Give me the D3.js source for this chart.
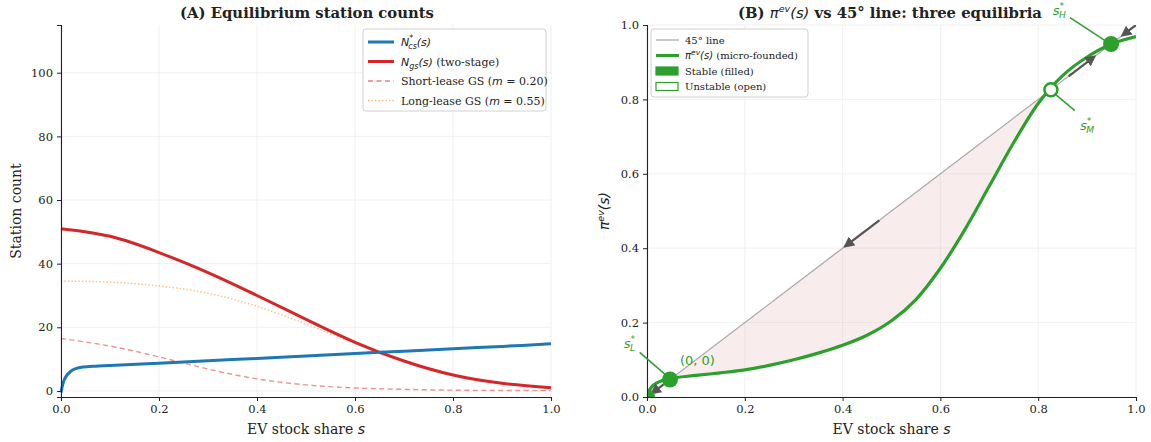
<!DOCTYPE html>
<html>
<head>
<meta charset="utf-8">
<script src="https://cdn.jsdelivr.net/npm/d3@7"></script>
<style>
  body { margin: 0; background: #fff; }
  svg text { font-family: "DejaVu Serif", serif; }
  .math { font-family: "DejaVu Sans", sans-serif; font-style: italic; }
  .grid line { stroke: #ececec; stroke-width: 0.8; }
</style>
</head>
<body>
<div id="chart"></div>
<script>
// panel A data
const shareCs = [0, 0.005, 0.01, 0.02, 0.03, 0.045, 0.07, 0.1, 0.2, 0.3, 0.4, 0.5, 0.6, 0.7, 0.8, 0.9, 1.0]
const nCs = [-0.5, 2.8, 4.5, 6.2, 7.0, 7.5, 7.8, 8.0, 8.7, 9.5, 10.2, 11.0, 11.8, 12.5, 13.3, 14.0, 14.8]
const shareA = [0, 0.1, 0.2, 0.3, 0.4, 0.5, 0.6, 0.7, 0.8, 0.9, 1.0]
const nGs = [51.0, 48.6, 43.5, 37.2, 30.0, 22.5, 15.3, 9.4, 5.0, 2.4, 1.0]
const shortLease = [16.5, 14.1, 10.7, 6.9, 3.8, 1.9, 0.95, 0.5, 0.25, 0.15, 0.1]
const longLease = [34.5, 34.2, 33.0, 30.7, 26.6, 21.0, 15.0, 9.4, 5.0, 2.4, 1.0]

// panel B data
const shareB = [0, 0.005, 0.01, 0.02, 0.03, 0.047, 0.1, 0.15, 0.2, 0.25, 0.3, 0.35, 0.4, 0.45, 0.5, 0.55, 0.6, 0.65, 0.7, 0.75, 0.8, 0.85, 0.9, 0.95, 1.0]
const piEv = [0, 0.018, 0.028, 0.038, 0.044, 0.05, 0.058, 0.065, 0.073, 0.085, 0.1, 0.118, 0.139, 0.166, 0.205, 0.262, 0.346, 0.45, 0.567, 0.684, 0.789, 0.864, 0.914, 0.949, 0.969]
const stablePts = [[0, 0], [0.047, 0.047], [0.949, 0.949]]
const unstablePts = [[0.826, 0.826]]
const flowArrows = [[0.475, 0.405], [0.034, 0.01], [0.862, 0.915], [1.0, 0.972]]

const ticksA = [0, 0.2, 0.4, 0.6, 0.8, 1.0]
const yTicksA = [0, 20, 40, 60, 80, 100]
const yTicksB = [0, 0.2, 0.4, 0.6, 0.8, 1.0]

const W = 1151, H = 442
const svg = d3.select("#chart").append("svg").attr("width", W).attr("height", H)

const green = "#2ca02c"
const ink = "#222"
const smooth = d3.curveCatmullRom.alpha(0.5)

function grid(g, x, y, xt, yt, h) {
  g.append("g").attr("class", "grid").selectAll("line").data(xt).enter().append("line")
    .attr("x1", d => x(d)).attr("x2", d => x(d)).attr("y1", 0).attr("y2", h)
  g.append("g").attr("class", "grid").selectAll("line").data(yt).enter().append("line")
    .attr("x1", x.range()[0]).attr("x2", x.range()[1]).attr("y1", d => y(d)).attr("y2", d => y(d))
}

function drawSpines(g, x, y, xt, yt, yfmt, h) {
  const xa = g.append("g").attr("transform", "translate(0," + h + ")")
    .call(d3.axisBottom(x).tickValues(xt).tickFormat(d3.format(".1f")).tickSize(4).tickPadding(4))
  const ya = g.append("g")
    .call(d3.axisLeft(y).tickValues(yt).tickFormat(yfmt).tickSize(4).tickPadding(4))
  ;[xa, ya].forEach(a => {
    a.select(".domain").attr("stroke", ink).attr("stroke-width", 1.1)
    a.selectAll(".tick line").attr("stroke", ink)
    a.selectAll("text").style("font-family", "DejaVu Serif").style("font-size", "11.5px").style("fill", ink)
  })
}

function label(sel, size) {
  return sel.style("font-size", size).style("fill", ink)
}

// ---------- Panel A ----------
const a = { left: 61, top: 25, w: 490, h: 372 }
const gA = svg.append("g").attr("transform", "translate(" + a.left + "," + a.top + ")")
const xA = d3.scaleLinear().domain([0, 1]).range([0, a.w])
const yA = d3.scaleLinear().domain([-1.9, 115]).range([a.h, 0])

grid(gA, xA, yA, ticksA, yTicksA, a.h)

const lineA = (xs, vals, curve) => d3.line().x((d, i) => xA(xs[i])).y(d => yA(d)).curve(curve)(vals)

gA.append("path").attr("d", lineA(shareA, shortLease, d3.curveNatural)).attr("fill", "none")
  .attr("stroke", "#e88080").attr("stroke-width", 1.4).attr("stroke-dasharray", "5,3.5").attr("opacity", 0.85)
gA.append("path").attr("d", lineA(shareA, longLease, d3.curveNatural)).attr("fill", "none")
  .attr("stroke", "#fdae6b").attr("stroke-width", 1.4).attr("stroke-dasharray", "1.3,2.2").attr("opacity", 0.9)
gA.append("path").attr("d", lineA(shareA, nGs, d3.curveNatural)).attr("fill", "none")
  .attr("stroke", "#d62728").attr("stroke-width", 3)
gA.append("path").attr("d", lineA(shareCs, nCs, smooth)).attr("fill", "none")
  .attr("stroke", "#1f77b4").attr("stroke-width", 3)

drawSpines(gA, xA, yA, ticksA, yTicksA, d3.format("d"), a.h)

label(svg.append("text").attr("x", a.left + a.w / 2 + 1).attr("y", 18).attr("text-anchor", "middle"), "14.8px")
  .style("font-weight", "bold").text("(A)  Equilibrium station counts")
label(svg.append("text").attr("x", a.left + a.w / 2).attr("y", 434).attr("text-anchor", "middle"), "14px")
  .html('EV stock share <tspan class="math">s</tspan>')
label(svg.append("text").attr("transform", "translate(21," + (a.top + a.h / 2) + ") rotate(-90)")
  .attr("text-anchor", "middle"), "14px").text("Station count")

// legend A
const legA = svg.append("g").attr("transform", "translate(363,29)")
legA.append("rect").attr("width", 183).attr("height", 82).attr("rx", 3)
  .attr("fill", "#fff").attr("fill-opacity", 0.85).attr("stroke", "#d0d0d0")
const legAItems = [
  { color: "#1f77b4", w: 3, dash: null, html: '<tspan class="math">N</tspan><tspan class="math" dy="-5" font-size="8px">*</tspan><tspan class="math" dy="8" dx="-5" font-size="8px">cs</tspan><tspan class="math" dy="-3">(s)</tspan>' },
  { color: "#d62728", w: 3, dash: null, html: '<tspan class="math">N</tspan><tspan class="math" dy="3" font-size="8px">gs</tspan><tspan class="math" dy="-3">(s)</tspan> (two-stage)' },
  { color: "#e88080", w: 1.4, dash: "5,3.5", html: 'Short-lease GS (<tspan class="math">m</tspan> = 0.20)' },
  { color: "#fdae6b", w: 1.4, dash: "1.3,2.2", html: 'Long-lease GS (<tspan class="math">m</tspan> = 0.55)' }
]
legAItems.forEach((d, i) => {
  const yy = 13 + i * 19.5
  legA.append("line").attr("x1", 5).attr("x2", 31).attr("y1", yy).attr("y2", yy)
    .attr("stroke", d.color).attr("stroke-width", d.w).attr("stroke-dasharray", d.dash)
  label(legA.append("text").attr("x", 38).attr("y", yy + 4), "11px").html(d.html)
})

// ---------- Panel B ----------
const b = { left: 647, top: 25, w: 489, h: 372 }
const gB = svg.append("g").attr("transform", "translate(" + b.left + "," + b.top + ")")
const xB = d3.scaleLinear().domain([0, 1]).range([0, b.w])
const yB = d3.scaleLinear().domain([0, 1]).range([b.h, 0])

grid(gB, xB, yB, ticksA, yTicksB, b.h)

svg.append("clipPath").attr("id", "clipB").append("rect")
  .attr("x", 0).attr("y", 0).attr("width", b.w).attr("height", b.h)
const inner = gB.append("g").attr("clip-path", "url(#clipB)")

// shading between 45 line and pi curve over the middle region (clipped to where the curve is below)
const idx = shareB.map((s, i) => i).filter(i => shareB[i] >= 0.047 && shareB[i] <= 0.85)
svg.append("clipPath").attr("id", "clipMid").append("rect")
  .attr("x", xB(0.047)).attr("y", 0).attr("width", xB(0.826) - xB(0.047)).attr("height", b.h)
inner.append("path").attr("clip-path", "url(#clipMid)")
  .attr("d", d3.area().x(i => xB(shareB[i])).y0(i => yB(shareB[i])).y1(i => yB(piEv[i])).curve(smooth)(idx))
  .attr("fill", "#e8b4b4").attr("fill-opacity", 0.25)

inner.append("line").attr("x1", xB(0)).attr("y1", yB(0)).attr("x2", xB(1)).attr("y2", yB(1))
  .attr("stroke", "#aaaaaa").attr("stroke-width", 1.3)

inner.append("path")
  .attr("d", d3.line().x((d, i) => xB(shareB[i])).y(d => yB(d)).curve(smooth)(piEv))
  .attr("fill", "none").attr("stroke", green).attr("stroke-width", 3.2)

// flow arrows along the diagonal
svg.append("defs").append("marker").attr("id", "ah").attr("viewBox", "0 0 10 10")
  .attr("refX", 8).attr("refY", 5).attr("markerWidth", 5).attr("markerHeight", 5).attr("orient", "auto")
  .append("path").attr("d", "M0,0 L10,5 L0,10 z").attr("fill", "#555")
inner.selectAll(".flow").data(flowArrows).enter().append("line")
  .attr("x1", d => xB(d[0])).attr("y1", d => yB(d[0]))
  .attr("x2", d => xB(d[1])).attr("y2", d => yB(d[1]))
  .attr("stroke", "#555").attr("stroke-width", 2.2).attr("marker-end", "url(#ah)")

inner.selectAll(".stable").data(stablePts).enter().append("circle")
  .attr("cx", d => xB(d[0])).attr("cy", d => yB(d[1])).attr("r", 8).attr("fill", green)
inner.selectAll(".unstable").data(unstablePts).enter().append("circle")
  .attr("cx", d => xB(d[0])).attr("cy", d => yB(d[1])).attr("r", 6.5)
  .attr("fill", "#fff").attr("stroke", green).attr("stroke-width", 2.5)

drawSpines(gB, xB, yB, ticksA, yTicksB, d3.format(".1f"), b.h)

// equilibrium annotations
const notes = [
  { lab: "L", tx: -0.036, ty: 0.145, x1: -0.015, y1: 0.12, x2: 0.043, y2: 0.054 },
  { lab: "M", tx: 0.9, ty: 0.73, x1: 0.875, y1: 0.77, x2: 0.834, y2: 0.815 },
  { lab: "H", tx: 0.843, ty: 1.04, x1: 0.865, y1: 1.02, x2: 0.94, y2: 0.955 }
]
notes.forEach(n => {
  gB.append("line").attr("x1", xB(n.x1)).attr("y1", yB(n.y1)).attr("x2", xB(n.x2)).attr("y2", yB(n.y2))
    .attr("stroke", green).attr("stroke-width", 1.5)
  gB.append("text").attr("x", xB(n.tx)).attr("y", yB(n.ty) + 5).attr("text-anchor", "middle")
    .style("font-size", "13px").style("fill", green)
    .html('<tspan class="math">s</tspan><tspan class="math" font-size="9px" dy="-6">*</tspan><tspan class="math" font-size="9px" dy="9" dx="-5">' + n.lab + '</tspan>')
})
gB.append("text").attr("x", xB(0.103)).attr("y", yB(0.1) + 5).attr("text-anchor", "middle")
  .style("font-family", "DejaVu Sans").style("font-size", "13px").style("fill", green).text("(0, 0)")

label(svg.append("text").attr("x", 890).attr("y", 18).attr("text-anchor", "middle"), "14.8px")
  .style("font-weight", "bold")
  .html('(B)  <tspan class="math" font-weight="normal">π</tspan><tspan class="math" font-weight="normal" font-size="9.5px" dy="-6">ev</tspan><tspan class="math" font-weight="normal" dy="6">(s)</tspan> vs 45° line: three equilibria')
label(svg.append("text").attr("x", b.left + b.w / 2).attr("y", 434).attr("text-anchor", "middle"), "14px")
  .html('EV stock share <tspan class="math">s</tspan>')
label(svg.append("text").attr("transform", "translate(609," + (b.top + b.h / 2) + ") rotate(-90)")
  .attr("text-anchor", "middle"), "14px")
  .html('<tspan class="math">π</tspan><tspan class="math" font-size="9.5px" dy="-5">ev</tspan><tspan class="math" dy="5">(s)</tspan>')

// legend B
const legB = svg.append("g").attr("transform", "translate(651,29)")
legB.append("rect").attr("width", 157).attr("height", 68).attr("rx", 3)
  .attr("fill", "#fff").attr("fill-opacity", 0.85).attr("stroke", "#d0d0d0")
const legBItems = [
  { kind: "line", color: "#aaaaaa", w: 1.3, html: '45° line' },
  { kind: "line", color: green, w: 3, html: '<tspan class="math">π</tspan><tspan class="math" font-size="7.5px" dy="-4">ev</tspan><tspan class="math" dy="4">(s)</tspan>  (micro-founded)' },
  { kind: "fill", html: 'Stable (filled)' },
  { kind: "open", html: 'Unstable (open)' }
]
legBItems.forEach((d, i) => {
  const yy = 11 + i * 15.5
  if (d.kind === "line") {
    legB.append("line").attr("x1", 5).attr("x2", 28).attr("y1", yy).attr("y2", yy)
      .attr("stroke", d.color).attr("stroke-width", d.w)
  } else {
    legB.append("rect").attr("x", 5).attr("y", yy - 4).attr("width", 22).attr("height", 8)
      .attr("fill", d.kind === "fill" ? green : "#fff").attr("stroke", green).attr("stroke-width", 1.2)
  }
  label(legB.append("text").attr("x", 34).attr("y", yy + 3.5), "10px").html(d.html)
})
</script>
</body>
</html>
